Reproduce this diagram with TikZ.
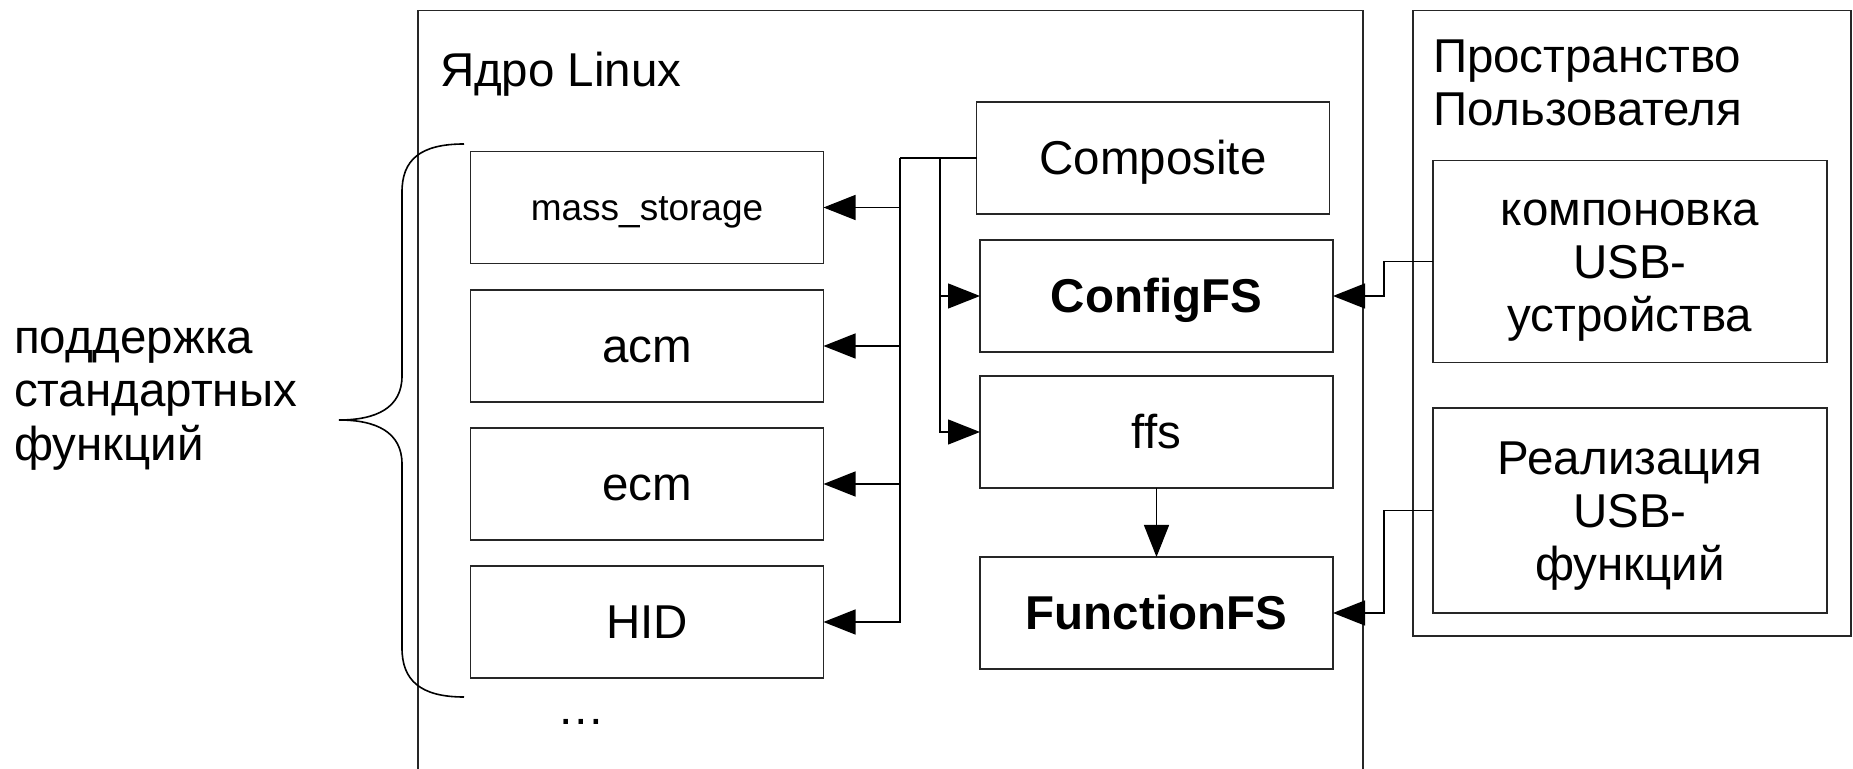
\documentclass[tikz,border=0pt]{standalone}
\usepackage{fontspec}
\setmainfont{Liberation Sans}
\usetikzlibrary{arrows.meta}
\newcommand{\capstrut}{\rule{0pt}{17pt}}

\begin{document}
\begin{tikzpicture}[x=0.5pt,y=-0.5pt,
  every node/.style={inner sep=0pt,outer sep=0pt},
  bigfont/.style={font=\fontsize{23.75pt}{26.6pt}\selectfont},
  oneline/.style={bigfont,text height=17pt,text depth=0pt},
  multiline/.style={bigfont,text depth=0pt},
  boxline/.style={draw=black!85,line width=0.65pt,align=center},
  block/.style={boxline,oneline,minimum width=176.5pt,minimum height=56pt},
  sidebox/.style={boxline,multiline,minimum width=197pt,minimum height=101pt},
  wire/.style={draw=black,line width=0.7pt},
  arr/.style={wire,-{Triangle[length=16pt,width=12.5pt]}},
  frame/.style={draw=black!85,line width=0.6pt}]

\useasboundingbox (0,0) rectangle (1853,769);

% kernel area, open at the bottom
\draw[frame] (418,769) -- (418,10.6) -- (1363,10.6) -- (1363,769);
\node[oneline,anchor=west] (ktitle) at (440,70) {Ядро Linux};

% user space area
\draw[frame] (1413,10.6) rectangle (1851,636);
\node[multiline,anchor=west,align=left] (utitle) at (1433,82) {\capstrut Пространство\\Пользователя};

% kernel blocks
\node[block] (comp) at (1153,158) {Composite};
\node[block] (cfg)  at (1156.5,296) {\textbf{ConfigFS}};
\node[block] (ffs)  at (1156.5,432) {ffs};
\node[block] (ffsn) at (1156.5,613) {\textbf{FunctionFS}};

% standard function drivers
\node[block,font=\fontsize{18.5pt}{22pt}\selectfont,text height=13.25pt] (mass) at (647,207.5) {mass\_storage};
\node[block] (acm) at (647,346) {acm};
\node[block] (ecm) at (647,484) {ecm};
\node[block] (hid) at (647,622) {HID};
\node[oneline] (dots) at (581,708) {…};

% user space blocks
\node[sidebox] (komp) at (1630,261.5) {\capstrut компоновка\\USB-\\устройства};
\node[sidebox,minimum height=102.5pt] (real) at (1630,510.5) {\capstrut Реализация\\USB-\\функций};

% bus from Composite
\coordinate (busA) at (900,158);
\coordinate (busB) at (940,158);
\draw[wire] (comp.west) -- (busA);
\draw[arr] (busA) |- (mass.east);
\draw[arr] (busA) |- (acm.east);
\draw[arr] (busA) |- (ecm.east);
\draw[arr] (busA) |- (hid.east);
\draw[arr] (busB) |- (cfg.west);
\draw[arr] (busB) |- (ffs.west);

\draw[arr] (ffs.south) -- (ffsn.north);

% user space to kernel
\coordinate (jA) at (1384,261.5);
\coordinate (jB) at (1384,510.5);
\draw[wire] (komp.west) -- (jA);
\draw[arr] (jA) |- (cfg.east);
\draw[wire] (real.west) -- (jB);
\draw[arr] (jB) |- (ffsn.east);

% brace and its label
\draw[line width=0.8pt] (464,144) .. controls (420,144) and (402,160) .. (402,192)
  -- (402,376) .. controls (402,408) and (376,420) .. (339,420)
  .. controls (376,420) and (402,432) .. (402,464)
  -- (402,648) .. controls (402,680) and (420,697) .. (464,697);
\node[multiline,anchor=west,align=left] (blabel) at (14,390) {\capstrut поддержка\\стандартных\\функций};
\end{tikzpicture}
\end{document}
